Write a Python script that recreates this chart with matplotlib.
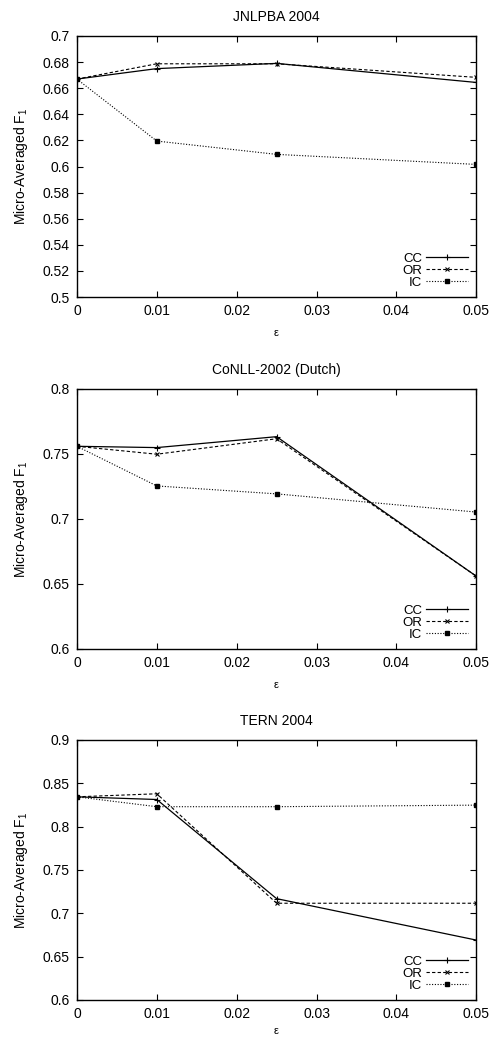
import matplotlib
matplotlib.use("Agg")
import matplotlib.pyplot as plt
from matplotlib.ticker import FuncFormatter

plt.rcParams['font.family'] = ['Liberation Sans', 'DejaVu Sans']
plt.rcParams['mathtext.fontset'] = 'custom'
plt.rcParams['mathtext.rm'] = 'Liberation Sans'

eps = [0, 0.01, 0.025, 0.05]

# JNLPBA 2004
jnlpba_cc = [0.667, 0.675, 0.679, 0.6644]
jnlpba_or = [0.667, 0.6787, 0.6787, 0.6683]
jnlpba_ic = [0.667, 0.6195, 0.6093, 0.6016]

# CoNLL-2002 (Dutch)
conll_cc = [0.7559, 0.7549, 0.7633, 0.656]
conll_or = [0.7559, 0.7498, 0.7617, 0.656]
conll_ic = [0.7559, 0.7254, 0.7193, 0.7053]

# TERN 2004
tern_cc = [0.8344, 0.8313, 0.7169, 0.6691]
tern_or = [0.8344, 0.8379, 0.7116, 0.7116]
tern_ic = [0.8344, 0.823, 0.823, 0.8248]

titles = ["JNLPBA 2004", "CoNLL-2002 (Dutch)", "TERN 2004"]
ylims = [(0.5, 0.7), (0.6, 0.8), (0.6, 0.9)]
ysteps = [0.02, 0.05, 0.05]
all_data = [(jnlpba_cc, jnlpba_or, jnlpba_ic),
            (conll_cc, conll_or, conll_ic),
            (tern_cc, tern_or, tern_ic)]

# axes boxes (left, bottom, width, height) in figure fraction
boxes = [(0.156, 0.7144, 0.81, 0.251),
         (0.156, 0.3760, 0.81, 0.250),
         (0.156, 0.0385, 0.81, 0.250)]
xlabel_pads = [7, 7, 4]


def fmt(v, pos):
    return "%g" % round(v, 4)


fig = plt.figure(figsize=(4.93, 10.4), dpi=100)

for i in range(3):
    ax = fig.add_axes(boxes[i])
    cc, orr, ic = all_data[i]
    ax.plot(eps, cc, color="black", linestyle="-", linewidth=0.9,
            marker="+", markersize=4, markeredgewidth=0.8, label="CC")
    ax.plot(eps, orr, color="black", linestyle=(0, (3, 2)), linewidth=0.8,
            marker="x", markersize=3.5, markeredgewidth=0.8, label="OR")
    ax.plot(eps, ic, color="black", linestyle=(0, (1, 1.5)), linewidth=0.8,
            marker="s", markersize=2.5, label="IC")

    lo, hi = ylims[i]
    ax.set_xlim(0, 0.05)
    ax.set_ylim(lo, hi)
    n = int(round((hi - lo) / ysteps[i]))
    ax.set_yticks([lo + k * ysteps[i] for k in range(n + 1)])
    ax.set_xticks([0, 0.01, 0.02, 0.03, 0.04, 0.05])
    ax.xaxis.set_major_formatter(FuncFormatter(fmt))
    ax.yaxis.set_major_formatter(FuncFormatter(fmt))
    ax.tick_params(direction="in", top=True, right=True, length=4,
                   width=0.8, labelsize=10, pad=5)
    for s in ax.spines.values():
        s.set_linewidth(1.0)

    ax.set_title(titles[i], fontsize=10, pad=11)
    ax.set_xlabel("ε", fontsize=8, labelpad=xlabel_pads[i])
    ax.set_ylabel("Micro-Averaged F$_1$", fontsize=10, labelpad=9)

    leg = ax.legend(loc="lower right", markerfirst=False, frameon=False,
                    fontsize=9.5, handlelength=3.2, handletextpad=0.3,
                    labelspacing=0.0, borderaxespad=0.2)
    for t in leg.get_texts():
        t.set_ha("right")

fig.savefig("out.png", dpi=100)
